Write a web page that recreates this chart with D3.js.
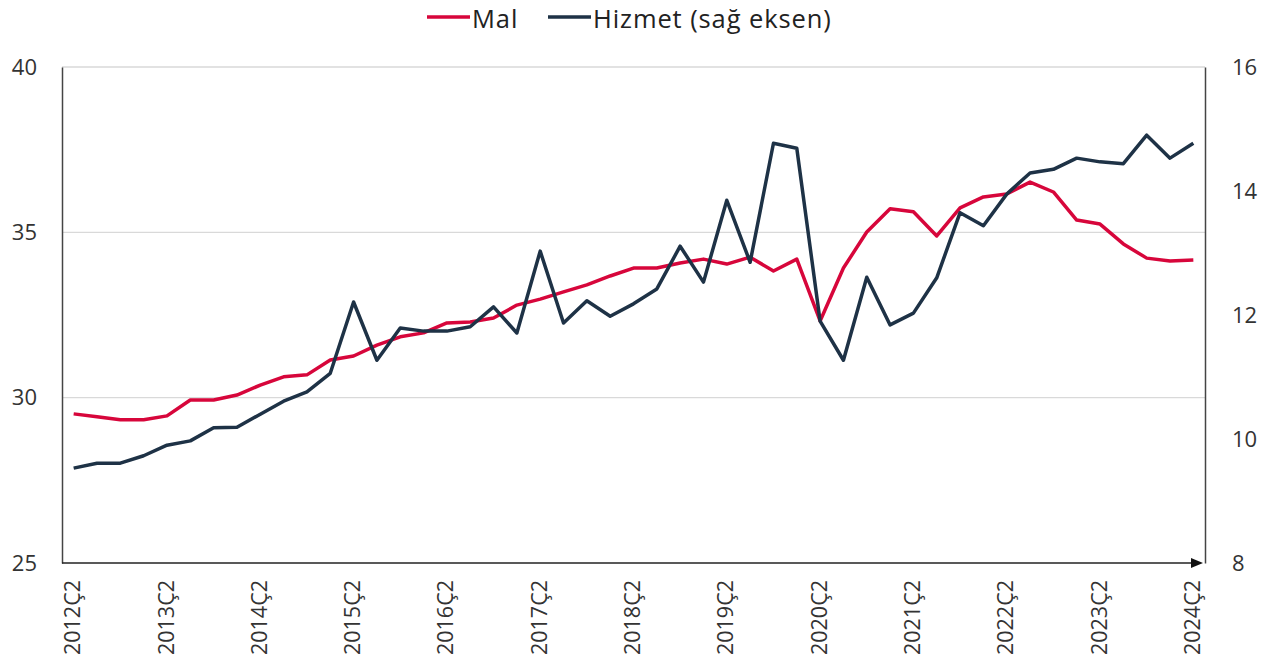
<!DOCTYPE html>
<html><head><meta charset="utf-8">
<script src="https://cdn.jsdelivr.net/npm/d3@7"></script>
<style>body{margin:0;background:#fff}svg{display:block;font-family:"Open Sans",sans-serif}</style>
</head><body><svg id="c" width="1273" height="672"></svg>
<script>
const years = d3.range(2012, 2025);
const categories = [];
years.forEach(y => [1,2,3,4].forEach(q => { if (!(y===2012 && q<2) && !(y===2024 && q>2)) categories.push(y + "Ç" + q); }));
const malValues = [29.51,29.42,29.33,29.33,29.45,29.93,29.93,30.08,30.38,30.63,30.69,31.14,31.26,31.59,31.84,31.96,32.26,32.29,32.41,32.80,32.98,33.20,33.41,33.68,33.92,33.92,34.07,34.19,34.04,34.25,33.83,34.19,32.32,33.92,35.01,35.71,35.62,34.89,35.74,36.07,36.16,36.52,36.22,35.37,35.25,34.65,34.22,34.13,34.16];
const hizmetValues = [9.53,9.61,9.61,9.73,9.90,9.97,10.18,10.19,10.40,10.61,10.76,11.06,12.21,11.27,11.79,11.74,11.74,11.81,12.13,11.71,13.03,11.87,12.23,11.98,12.18,12.42,13.11,12.53,13.85,12.85,14.77,14.69,11.90,11.27,12.61,11.84,12.03,12.60,13.65,13.44,13.95,14.29,14.35,14.53,14.47,14.44,14.90,14.53,14.77];
const leftTicks = [25,30,35,40];
const rightTicks = [8,10,12,14,16];
const seriesNames = ["Mal","Hizmet (sağ eksen)"];
const colors = ["#D7063B","#1E3246"];

const svg = d3.select("#c");
const L = 62, R = 1205, T = 67, B = 563;
const x = d3.scaleBand().domain(categories).range([L, R]);
const yL = d3.scaleLinear().domain([25,40]).range([B, T]);
const yR = d3.scaleLinear().domain([8,16]).range([B, T]);
const cx = d => x(d) + x.bandwidth()/2;

// grid
svg.append("g").selectAll("line").data(leftTicks.filter(t=>t>25)).join("line")
  .attr("x1", L).attr("x2", R).attr("y1", d=>yL(d)).attr("y2", d=>yL(d))
  .attr("stroke", "#d9d9d9").attr("stroke-width", 1.3);

// left axis
const gl = svg.append("g").attr("transform", `translate(${L},0)`)
  .call(d3.axisLeft(yL).tickValues(leftTicks).tickSize(0).tickPadding(25));
gl.select(".domain").attr("stroke", "#444").attr("stroke-width", 1.5);
gl.selectAll("text").attr("font-size", 22).attr("fill", "#333").attr("font-family", "Open Sans");

// right axis
const gr = svg.append("g").attr("transform", `translate(${R},0)`)
  .call(d3.axisRight(yR).tickValues(rightTicks).tickSize(0).tickPadding(27));
gr.select(".domain").attr("stroke", "#444").attr("stroke-width", 1.5);
gr.selectAll("text").attr("font-size", 22).attr("fill", "#333").attr("font-family", "Open Sans");

// x axis
const gx = svg.append("g").attr("transform", `translate(0,${B})`)
  .call(d3.axisBottom(x).tickValues(categories.filter(c => c.endsWith("Ç2"))).tickSize(0).tickPadding(0));
gx.select(".domain").remove();
gx.selectAll("text").attr("font-size", 21.5).attr("fill", "#333").attr("font-family", "Open Sans")
  .attr("text-anchor", "end").attr("transform", "translate(-1,17) rotate(-90)").attr("dy", "0.35em").attr("y", 0);
svg.append("line").attr("x1", L).attr("x2", R - 12).attr("y1", B).attr("y2", B).attr("stroke", "#222").attr("stroke-width", 1.5);
svg.append("path").attr("d", `M${R-14},${B-5}L${R-2},${B}L${R-14},${B+5}Z`).attr("fill", "#111");

// lines
const lineL = d3.line().x((d,i)=>cx(categories[i])).y(d=>yL(d));
const lineR = d3.line().x((d,i)=>cx(categories[i])).y(d=>yR(d));
svg.append("path").datum(malValues).attr("d", lineL).attr("fill","none").attr("stroke",colors[0]).attr("stroke-width",3.5).attr("stroke-linejoin","round");
svg.append("path").datum(hizmetValues).attr("d", lineR).attr("fill","none").attr("stroke",colors[1]).attr("stroke-width",3.5).attr("stroke-linejoin","round");

// legend
const lg = svg.append("g");
const items = [{n:seriesNames[0], c:colors[0], x:427}, {n:seriesNames[1], c:colors[1], x:548}];
items.forEach(it => {
  lg.append("line").attr("x1", it.x).attr("x2", it.x+43).attr("y1", 17).attr("y2", 17).attr("stroke", it.c).attr("stroke-width", 3.5);
  lg.append("text").attr("x", it.x+45).attr("y", 27.5).attr("font-size", 25.5).attr("letter-spacing", 0.9).attr("fill", "#222").text(it.n);
});
</script></body></html>
